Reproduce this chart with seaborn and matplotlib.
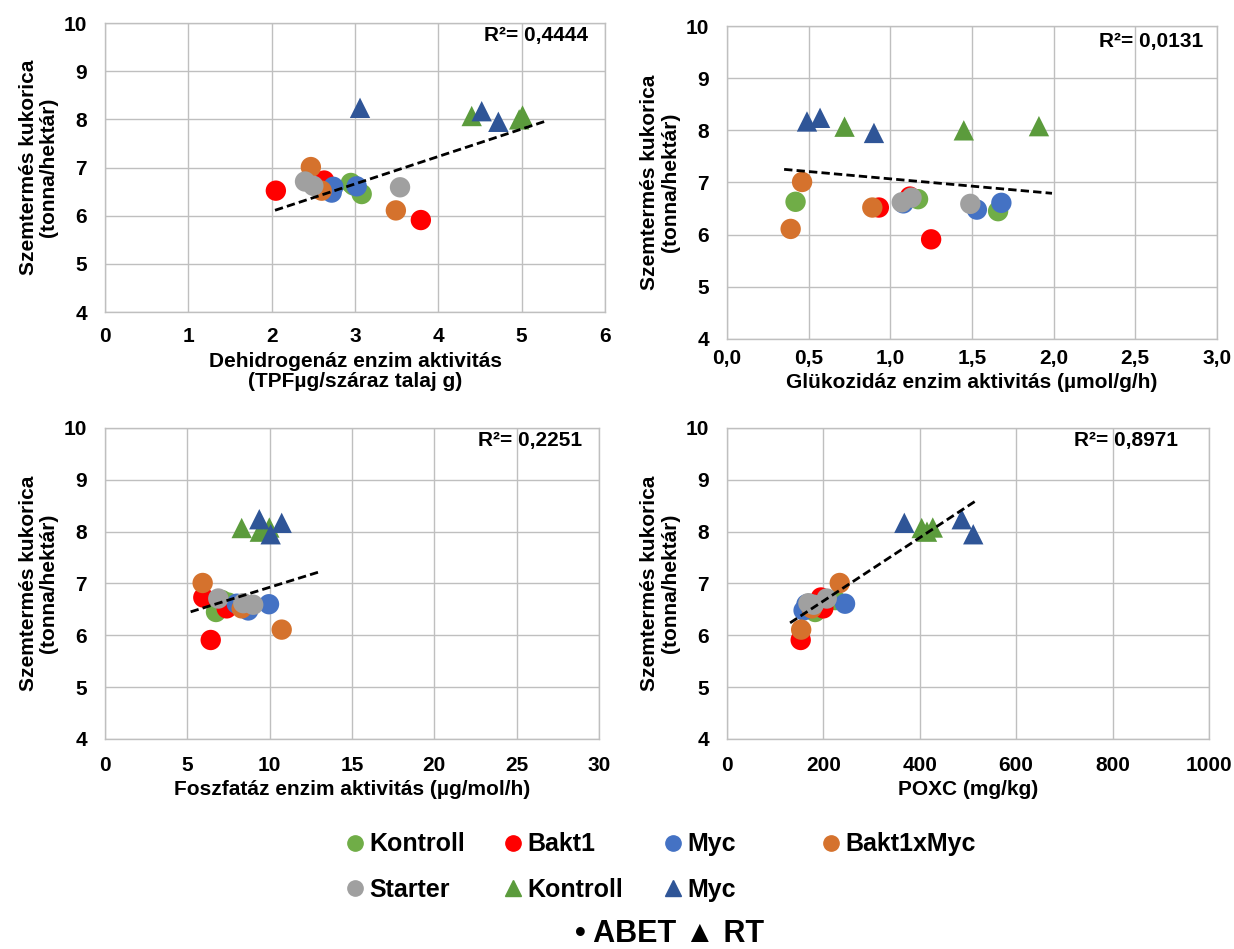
import numpy as np
import pandas as pd
import matplotlib
matplotlib.use("Agg")
import matplotlib.pyplot as plt
import seaborn as sns
from matplotlib.lines import Line2D
from matplotlib.ticker import FuncFormatter

# groups: ABET treatments (circles) and RT treatments (triangles)
groups = ["Kontroll", "Bakt1", "Myc", "Bakt1xMyc", "Starter", "RT Kontroll", "RT Myc"]
legend_labels = ["Kontroll", "Bakt1", "Myc", "Bakt1xMyc", "Starter", "Kontroll", "Myc"]

# grain yield, t/ha (3 replicates per group)
yield_t_ha = [
    [6.63, 6.68, 6.45],
    [6.52, 6.73, 5.91],
    [6.60, 6.48, 6.61],
    [7.01, 6.52, 6.11],
    [6.62, 6.71, 6.59],
    [8.07, 8.00, 8.08],
    [8.17, 8.24, 7.95],
]

dehydrogenase = [
    [2.98, 2.95, 3.08],
    [2.05, 2.63, 3.79],
    [2.74, 2.72, 3.02],
    [2.47, 2.60, 3.49],
    [2.50, 2.40, 3.54],
    [4.40, 4.97, 5.01],
    [4.52, 3.06, 4.72],
]
glucosidase = [
    [0.42, 1.17, 1.66],
    [0.93, 1.12, 1.25],
    [1.08, 1.53, 1.68],
    [0.46, 0.89, 0.39],
    [1.07, 1.13, 1.49],
    [0.72, 1.45, 1.91],
    [0.49, 0.57, 0.90],
]
phosphatase = [
    [7.5, 7.1, 6.74],
    [7.39, 5.97, 6.42],
    [9.96, 8.7, 8.0],
    [5.93, 8.3, 10.73],
    [8.4, 6.88, 9.0],
    [8.3, 9.4, 9.98],
    [10.73, 9.37, 10.06],
]
poxc = [
    [190, 225, 183],
    [200, 195, 153],
    [165, 159, 245],
    [234, 176, 154],
    [169, 207, 180],
    [404, 415, 427],
    [368, 487, 511],
]

# linear trendlines as shown in the original (slope, intercept, x extent)
trend_slope = [0.57, -0.28, 0.0987, 0.00611]
trend_intercept = [4.95, 7.35, 5.94, 5.44]
trend_range = [(2.04, 5.28), (0.35, 1.99), (5.2, 13.0), (131, 517)]

r2_labels = ["R²= 0,4444", "R²= 0,0131", "R²= 0,2251", "R²= 0,8971"]
x_labels = ["Dehidrogenáz enzim aktivitás\n(TPFµg/száraz talaj g)",
            "Glükozidáz enzim aktivitás (µmol/g/h)",
            "Foszfatáz enzim aktivitás (µg/mol/h)",
            "POXC (mg/kg)"]
x_ticks = [np.arange(0, 7, 1), np.arange(0, 3.01, 0.5),
           np.arange(0, 31, 5), np.arange(0, 1001, 200)]

colors = ["#70AD47", "#FF0000", "#4472C4", "#D5722D", "#A0A0A0", "#5B9B3C", "#2F5597"]
markers = ["o", "o", "o", "o", "o", "^", "^"]

sns.set_style("white")
plt.rcParams["font.family"] = ["Liberation Sans", "DejaVu Sans"]
plt.rcParams["font.weight"] = "bold"
for key in ["text.color", "axes.labelcolor", "xtick.color", "ytick.color"]:
    plt.rcParams[key] = "black"

fig = plt.figure(figsize=(12.34, 9.49), dpi=100)
axes_pos = [[0.0851, 0.6712, 0.4052, 0.3045],
            [0.5891, 0.6428, 0.3971, 0.3298],
            [0.0851, 0.2213, 0.4003, 0.3277],
            [0.5891, 0.2213, 0.3906, 0.3277]]
r2_pos = [(0.966, 0.958), (0.971, 0.949), (0.966, 0.961), (0.936, 0.961)]
xpad = [11, 7, 12, 12]

palette = dict(zip(groups, colors))
marker_map = dict(zip(groups, markers))

for i, xdata in enumerate([dehydrogenase, glucosidase, phosphatase, poxc]):
    df = pd.DataFrame({
        "group": np.repeat(groups, 3),
        "x": np.concatenate(xdata),
        "y": np.concatenate(yield_t_ha),
    })
    ax = fig.add_axes(axes_pos[i])
    sns.scatterplot(data=df, x="x", y="y", hue="group", style="group",
                    palette=palette, markers=marker_map, s=215,
                    edgecolor="none", linewidth=0, legend=False, ax=ax,
                    zorder=3)

    tx = np.array(trend_range[i])
    ax.plot(tx, trend_slope[i] * tx + trend_intercept[i], color="black",
            linestyle=(0, (3, 1.5)), linewidth=2, zorder=4)

    ax.set_xlim(x_ticks[i][0], x_ticks[i][-1])
    ax.set_ylim(4, 10)
    ax.set_xticks(x_ticks[i])
    ax.set_yticks(range(4, 11))
    if i == 1:
        ax.xaxis.set_major_formatter(FuncFormatter(lambda v, p: f"{v:.1f}".replace(".", ",")))
    ax.grid(True, color="#BFBFBF", linewidth=1)
    ax.set_axisbelow(True)
    for sp in ax.spines.values():
        sp.set_color("#BFBFBF")
        sp.set_linewidth(1)
    ax.tick_params(axis="both", length=0, labelsize=15)
    ax.tick_params(axis="x", pad=xpad[i])
    ax.tick_params(axis="y", pad=13)
    ax.set_xlabel(x_labels[i], fontsize=15, fontweight="bold", labelpad=4,
                  linespacing=1.05)
    ax.set_ylabel("Szemtermés kukorica\n(tonna/hektár)", fontsize=15,
                  fontweight="bold", labelpad=4, linespacing=1.1)
    ax.text(r2_pos[i][0], r2_pos[i][1], r2_labels[i], transform=ax.transAxes,
            ha="right", va="center", fontsize=15, fontweight="bold")

# legend in four columns, like the original
handles = [Line2D([], [], linestyle="none", marker=m, color=c, markersize=11)
           for m, c in zip(markers, colors)]
columns = [[0, 4], [1, 5], [2, 6], [3]]
col_x = [0.2804, 0.4084, 0.538, 0.6661]
for cx, idx in zip(col_x, columns):
    fig.legend([handles[j] for j in idx], [legend_labels[j] for j in idx],
               loc="upper left", bbox_to_anchor=(cx, 0.123),
               bbox_transform=fig.transFigure, frameon=False, borderpad=0,
               borderaxespad=0, handlelength=0.7, handletextpad=0.25,
               labelspacing=0.85, prop={"size": 18, "weight": "bold"})

fig.text(0.543, 0.016, "• ABET ▲ RT", ha="center", va="center",
         fontsize=22, fontweight="bold")

fig.savefig("out.png", dpi=100, facecolor="white")
